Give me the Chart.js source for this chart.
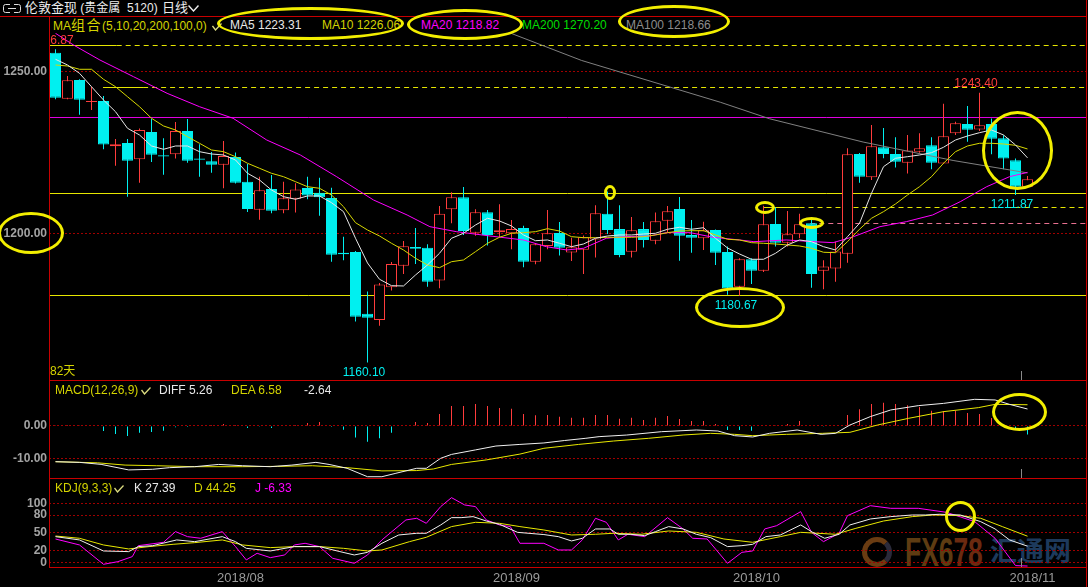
<!DOCTYPE html>
<html>
<head>
<meta charset="utf-8">
<title>伦敦金现 日线</title>
<script src="https://cdn.jsdelivr.net/npm/chart.js@4.4.1/dist/chart.umd.min.js"></script>
<style>
  html, body { margin: 0; padding: 0; background: #000; }
  body { position: relative; width: 1088px; height: 587px; overflow: hidden;
         font-family: "Liberation Sans", Arial, "Noto Sans CJK SC", sans-serif; }
  canvas { position: absolute; left: 0; }
  .t { position: absolute; font-size: 12px; line-height: 14px; white-space: nowrap; }
  .rl { position: absolute; background: #c80000; }
  .ring { position: absolute; box-sizing: border-box; border: 3px solid #f2ee00; border-radius: 50%; }
  .cur { position: absolute; width: 1px; height: 9px; background: #8a8a8a; }
</style>
</head>
<body>

<!-- watermark (under the charts) -->
<div style="position:absolute;left:862px;top:537px;width:30px;height:30px;box-sizing:border-box;border-radius:50%;border:5px solid #6a3c12;border-right-color:#2a2a3a;"></div>
<div class="t" style="left:905px;top:532px;font-size:40px;line-height:40px;font-weight:bold;color:#5e3c12;transform:scaleX(0.66);transform-origin:left top;">FX6<span style="color:#6b2a10">78</span></div>
<div class="t" style="left:990px;top:535px;font-size:27px;line-height:30px;font-weight:bold;color:#1d3a5c;font-family:'Noto Sans CJK SC',sans-serif;">汇通网</div>

<canvas id="kline" width="1088" height="363" style="top:17px"></canvas>
<canvas id="macd" width="1088" height="98" style="top:380px"></canvas>
<canvas id="kdj" width="1088" height="109" style="top:478px"></canvas>

<!-- frame -->
<div class="rl" style="left:0;top:16px;width:1087px;height:1px"></div>
<div class="rl" style="left:49px;top:380px;width:1038px;height:1px"></div>
<div class="rl" style="left:49px;top:478px;width:1038px;height:1px"></div>
<div class="rl" style="left:49px;top:567px;width:1038px;height:1px"></div>
<div class="rl" style="left:49px;top:16px;width:1px;height:552px"></div>
<div class="rl" style="left:1086px;top:0;width:1px;height:587px"></div>
<div class="rl" style="left:1077px;top:16px;width:9px;height:10px;clip-path:polygon(0 0,100% 0,100% 100%)"></div>
<div style="position:absolute;left:971px;top:17px;width:106px;height:1px;background:#e8e800"></div>
<div style="position:absolute;left:981px;top:20px;width:94px;height:0;border-top:1px dashed #5a5a00"></div>
<div class="cur" style="left:1021px;top:371px"></div>
<div class="cur" style="left:1021px;top:469px"></div>
<div class="cur" style="left:1021px;top:558px"></div>

<!-- top bar -->
<svg style="position:absolute;left:2px;top:3px" width="20" height="11">
  <path d="M8 1.5H3.5Q1.5 1.5 1.5 3.5V7.5Q1.5 9.5 3.5 9.5H8" fill="none" stroke="#ddd"/>
  <path d="M12 1.5H16.5Q18.5 1.5 18.5 3.5V7.5Q18.5 9.5 16.5 9.5H12" fill="none" stroke="#ddd"/>
  <path d="M6 5.5H14" stroke="#ddd"/>
</svg>
<div class="t" style="left:25px;top:1px;color:#ececec"><span style="font-size:13px">伦敦金现</span> (贵金属&nbsp; 5120)</div>
<div class="t" style="left:162px;top:1px;font-size:13px;color:#ececec">日线</div>
<svg style="position:absolute;left:188px;top:5px" width="11" height="7"><polyline points="0.5,0.5 5.5,6 10.5,0.5" fill="none" stroke="#ececec" stroke-width="1.4"/></svg>

<!-- MA legend row -->
<div style="position:absolute;left:50px;top:17px;width:1036px;height:16px;background:#000"></div>
<div class="t" style="left:53px;top:18px;color:#d4d400">MA<span style="font-size:14px;letter-spacing:1.5px">组合</span>(5,10,20,200,100,0)</div>
<svg style="position:absolute;left:212px;top:23px" width="10" height="8"><polyline points="0.5,3 3.5,7 9.5,0.5" fill="none" stroke="#dcdc80" stroke-width="1.3"/></svg>
<div class="t" style="left:230px;top:18px;color:#e8e8e8">MA5 1223.31</div>
<div class="t" style="left:322px;top:18px;color:#d4d400">MA10 1226.06</div>
<div class="t" style="left:421px;top:18px;color:#ff00ff">MA20 1218.82</div>
<div class="t" style="left:522px;top:18px;color:#00dd00">MA200 1270.20</div>
<div class="t" style="left:626px;top:18px;color:#8c8c8c">MA100 1218.66</div>
<div class="t" style="left:50px;top:364px;color:#d4d400">82天</div>

<!-- MACD legend -->
<div class="t" style="left:55px;top:383px;color:#d4d400">MACD(12,26,9)</div>
<svg style="position:absolute;left:141px;top:387px" width="10" height="8"><polyline points="0.5,3 3.5,7 9.5,0.5" fill="none" stroke="#dcdc80" stroke-width="1.3"/></svg>
<div class="t" style="left:159px;top:383px;color:#e8e8e8">DIFF 5.26</div>
<div class="t" style="left:231px;top:383px;color:#d4d400">DEA 6.58</div>
<div class="t" style="left:304px;top:383px;color:#e8e8e8">-2.64</div>

<!-- KDJ legend -->
<div class="t" style="left:55px;top:481px;color:#d4d400">KDJ(9,3,3)</div>
<svg style="position:absolute;left:114px;top:485px" width="10" height="8"><polyline points="0.5,3 3.5,7 9.5,0.5" fill="none" stroke="#dcdc80" stroke-width="1.3"/></svg>
<div class="t" style="left:134px;top:481px;color:#e8e8e8">K 27.39</div>
<div class="t" style="left:194px;top:481px;color:#d4d400">D 44.25</div>
<div class="t" style="left:255px;top:481px;color:#ff00ff">J -6.33</div>

<!-- hand drawn marks -->
<div class="ring" style="left:217px;top:7px;width:187px;height:33px"></div>
<div class="ring" style="left:407px;top:9px;width:116px;height:31px"></div>
<div class="ring" style="left:618px;top:5px;width:112px;height:33px"></div>
<div class="ring" style="left:-2px;top:212px;width:66px;height:42px"></div>
<div class="ring" style="left:604px;top:185px;width:12px;height:15px"></div>
<div class="ring" style="left:695px;top:287px;width:90px;height:41px"></div>
<div class="ring" style="left:755px;top:201px;width:20px;height:13px"></div>
<div class="ring" style="left:799px;top:217px;width:25px;height:12px"></div>
<div class="ring" style="left:982px;top:111px;width:71px;height:79px"></div>
<div class="ring" style="left:992px;top:393px;width:55px;height:38px"></div>
<div class="ring" style="left:945px;top:501px;width:31px;height:31px"></div>

<script>
// daily candles, index 0 = oldest
const openP = [1255.8,1241.6,1247.4,1240.6,1240.9,1226.9,1227.9,1222.9,1231.3,1224.1,
  1224.4,1231.6,1223.1,1222.3,1221.2,1223.6,1215.9,1207.3,1213.7,1207.1,
  1210.7,1214.0,1212.5,1210.9,1194.0,1194.2,1175.1,1173.2,1183.3,1190.0,
  1195.8,1195.5,1185.4,1207.4,1211.1,1200.2,1206.5,1200.3,1200.0,1201.6,
  1191.2,1196.1,1200.1,1194.1,1194.9,1198.1,1206.0,1201.3,1194.3,1201.3,
  1197.7,1203.9,1207.5,1199.5,1198.5,1201.0,1194.2,1183.5,1192.0,1188.4,
  1202.9,1197.1,1199.7,1203.1,1188.4,1189.1,1193.7,1224.5,1217.3,1226.6,
  1224.5,1221.8,1225.2,1227.2,1221.6,1230.9,1233.8,1232.1,1233.8,1229.4,
  1222.6,1214.4];
const highP = [1256.87,1248.6,1247.6,1245.3,1242.4,1229.1,1229.1,1232.4,1235.4,1229.4,
  1234.4,1235.3,1227.5,1225.1,1228.5,1225.0,1221.4,1217.5,1218.0,1215.9,
  1215.5,1217.5,1217.2,1214.1,1198.9,1194.5,1182.0,1184.6,1191.1,1197.6,
  1201.6,1196.6,1208.4,1212.7,1214.3,1207.4,1207.2,1209.0,1204.1,1202.3,
  1196.9,1207.2,1203.5,1198.6,1199.3,1208.7,1212.9,1208.7,1205.0,1203.5,
  1206.4,1208.4,1211.2,1204.1,1203.6,1201.2,1195.9,1192.3,1192.3,1208.5,
  1208.0,1206.9,1206.0,1204.1,1191.7,1197.4,1226.3,1224.8,1233.5,1232.5,
  1229.7,1230.4,1230.9,1229.7,1240.0,1234.5,1239.3,1243.4,1235.5,1230.3,
  1223.1,1217.7];
const lowP = [1241.4,1241.4,1236.6,1238.1,1226.0,1220.9,1211.3,1215.6,1222.0,1218.1,
  1223.1,1221.8,1217.5,1218.7,1213.9,1215.4,1206.6,1204.2,1206.2,1206.2,
  1206.4,1210.5,1205.4,1191.2,1191.7,1172.7,1160.1,1171.4,1182.3,1187.4,
  1190.5,1183.5,1183.0,1203.1,1199.5,1199.2,1196.2,1198.8,1195.1,1189.5,
  1190.4,1195.1,1193.1,1191.4,1187.4,1192.5,1199.8,1192.6,1192.5,1195.6,
  1196.6,1200.3,1191.5,1194.0,1194.8,1190.2,1181.0,1180.67,1184.3,1188.0,
  1195.9,1195.9,1198.5,1183.2,1182.7,1185.0,1190.9,1215.6,1216.5,1223.2,
  1220.3,1218.5,1224.9,1219.8,1221.4,1230.4,1228.3,1231.6,1224.4,1219.8,
  1211.87,1214.4];
const closeP = [1241.9,1247.3,1241.3,1240.9,1227.4,1227.5,1222.4,1231.9,1224.3,1223.7,
  1231.6,1222.4,1222.7,1221.2,1223.9,1215.6,1207.5,1213.3,1207.0,1210.8,
  1213.5,1211.7,1211.1,1193.4,1193.5,1174.2,1173.9,1184.2,1190.5,1196.0,
  1195.2,1185.0,1206.0,1211.1,1200.7,1206.5,1199.5,1200.9,1201.3,1191.2,
  1196.6,1200.0,1195.5,1195.7,1198.8,1206.2,1201.0,1193.3,1200.9,1197.9,
  1203.7,1206.8,1199.2,1198.6,1200.9,1194.0,1183.0,1192.0,1188.4,1202.8,
  1197.1,1199.7,1202.8,1187.4,1189.7,1194.4,1224.4,1217.5,1226.9,1224.5,
  1222.1,1225.6,1226.3,1221.8,1230.0,1234.0,1232.0,1233.4,1229.2,1223.1,
  1214.4,1216.7];

// moving averages
const ma5 = [1253.77,1252.01,1249.44,1245.30,1241.19,1237.58,1232.45,1230.38,1226.98,1225.96,
  1226.98,1226.98,1225.22,1224.51,1224.20,1222.65,1218.54,1216.47,1213.38,1211.31,
  1210.51,1211.53,1211.53,1209.46,1206.68,1198.46,1190.82,1185.79,1183.81,1183.72,
  1187.11,1190.21,1193.82,1198.46,1200.00,1202.57,1204.64,1203.80,1202.26,1199.48,
  1197.71,1197.93,1196.91,1195.86,1196.69,1198.46,1199.17,1199.48,1199.48,1199.78,
  1200.00,1201.24,1201.86,1201.24,1201.73,1198.46,1195.46,1193.60,1191.97,1191.97,
  1193.82,1196.39,1197.93,1197.41,1195.86,1194.84,1198.95,1203.09,1212.36,1220.58,
  1223.18,1223.67,1224.20,1224.91,1226.58,1228.83,1230.07,1231.09,1231.92,1230.38,
  1227.29,1223.31];
const ma10 = [1252.01,1251.70,1250.68,1250.68,1247.59,1245.30,1242.21,1239.12,1235.54,1233.16,
  1231.92,1229.85,1227.81,1225.74,1225.22,1223.67,1221.63,1220.09,1218.54,1217.49,
  1215.95,1214.40,1213.91,1211.84,1208.22,1203.28,1201.02,1199.17,1196.91,1194.84,
  1192.28,1190.21,1189.37,1191.22,1191.75,1194.32,1196.91,1198.77,1200.00,1200.19,
  1200.50,1201.42,1200.71,1198.95,1198.64,1198.64,1198.77,1198.77,1198.77,1198.95,
  1199.48,1200.19,1200.71,1200.80,1200.80,1199.48,1198.15,1197.93,1197.10,1196.91,
  1196.69,1196.39,1196.08,1195.37,1194.13,1194.01,1197.41,1201.24,1204.64,1206.68,
  1209.06,1211.84,1214.40,1217.49,1221.63,1225.22,1226.98,1227.81,1227.81,1227.60,
  1227.19,1226.06];
const ma20Idx = [0,1.5,3.7,6.5,9.3,12,14.8,17.6,20.4,23.4,26.5,29.3,31.2,33.4,36.2,39,40.9,42.6,
  44,45.9,47.3,49.5,50.9,52.9,54.8,57,58.2,60.9,63.2,64.8,66.5,68.7,70.9,73.1,75.4,77.6,79.5,81];
const ma20Val = [1261.80,1258.19,1253.55,1248.39,1243.26,1239.12,1235.54,1228.83,1224.20,1217.55,
  1210.29,1205.66,1202.04,1200.50,1199.17,1197.93,1195.86,1194.84,1195.37,1198.46,1198.95,
  1199.17,1200.19,1200.19,1198.77,1197.93,1197.41,1197.93,1197.41,1197.10,1198.95,1202.04,
  1203.59,1205.66,1209.77,1214.40,1217.49,1218.82];
const ma100Idx = [34,38.1,43.85,55.4,59.5,67.3,74.8,81];
const ma100Val = [1267.5,1261.6,1253.4,1240.5,1235.4,1228.2,1222.5,1218.66];

// MACD
const macdHist = [0.2,0.3,0.1,0,-1.55,-2.48,-3.1,-2.07,-1.86,-1.45,
  -0.4,-0.3,0,0.3,0.62,0.3,-0.6,-0.2,-0.6,0,
  0.3,0.93,1.24,-0.3,-1.14,-3.6,-4.86,-3.82,-2.07,0,
  1.24,0.93,3.72,6.2,6.2,6.8,6.2,5.58,5.37,3.72,
  3.3,3.41,2.9,2.58,2.58,3.41,3.41,2.27,2.58,1.86,
  2.58,3.1,2.17,1.55,1.55,0.62,-1.24,-1.24,-1.45,0,
  0.2,0.62,1.55,0,-0.2,0,3.41,5.17,6.82,7.23,
  6.82,6.4,5.89,4.75,4.65,4.75,4.03,3.72,2.48,0.2,
  -0.7,-2.64];
const diffIdx = [0,2,3.8,6.1,8.1,9.5,11.6,13.6,15.6,17.9,19.7,21.7,22.8,24.3,26,27.2,28.3,30.1,30.9,
  32.1,33,35,36.7,38.7,40.7,42.4,44.2,45.3,47.6,50.5,53.4,55.2,56.6,58.1,59.5,61.8,63.8,65,
  66.2,67.9,69.6,71.9,74,76.6,78.3,79.5,81];
const diffVal = [-11.05,-11.26,-11.88,-13.6,-13.4,-12.9,-12.6,-11.9,-12.3,-12.6,-12.1,-11.26,-11.9,
  -13.1,-15.7,-15.7,-14.7,-13.1,-13.1,-10.0,-8.8,-7.4,-6.2,-5.7,-5.25,-4.5,-3.8,-3.3,-2.8,-1.76,
  -1.24,-1.55,-3.0,-3.4,-2.27,-1.24,-2.58,-2.27,0.3,2.9,4.96,6.3,7.0,8.26,8.06,6.7,5.26];
const deaIdx = [0,3.5,5.8,8.4,11.6,15.6,18.5,21.4,24.3,27.2,30.1,31.5,33,35.9,38.7,40.7,43.6,46.5,
  49.4,52.3,54.6,56.6,58.1,60.9,63.9,66.2,68.5,71.1,74,76.9,78.3,81];
const deaVal = [-11.05,-11.4,-12.1,-12.3,-12.6,-12.6,-12.5,-12.3,-12.9,-13.9,-13.8,-13.3,-11.9,-10.5,
  -8.7,-6.9,-5.7,-4.65,-3.82,-2.79,-2.27,-2.58,-3.0,-2.58,-2.27,-1.96,0.3,2.38,4.44,5.68,6.7,6.58];

// KDJ
const kIdx = [0,2,4,6.1,6.9,8.1,10.1,11.6,13.9,15,15.9,17.9,19.9,22,23.7,24.9,26,27.2,28.6,30.1,
  30.9,32.1,33,33.8,34.8,35.9,37,38.5,40.7,41.9,43,43.9,45,46.2,46.9,47.9,49.1,50,51.1,52.3,
  53.4,54.6,56,57.2,58.1,59.2,60.4,62.1,63.1,64.1,65.3,66.2,67.9,69.6,71.4,72.5,73.7,75.4,
  77.1,78.3,79.5,81];
const kVal = [43.5,37.9,19.2,18.1,26.6,28.2,37.9,35,43.5,35,23.7,19.2,26.6,26.6,18.1,12.4,16.9,32.2,
  46.3,49.2,49.2,63.3,75.7,75.7,77.4,70,64.4,50.8,47,43.5,36.2,40.7,56.5,56.5,47.5,47.5,45.2,52,
  60.5,56.5,47.5,41.8,26.6,28.2,30.5,43.5,46.3,63.3,50.8,40.7,47.5,63.3,73.4,77.4,80.2,80.2,
  81.4,80.2,68.9,56.5,37.9,27.39];
const dIdx = [0,2,4,6.1,7.8,9.8,11.6,13.9,15.6,17.9,19.9,22,24,26,27.2,29.5,30.9,33,35,37,38.7,
  40.7,43,45,46.5,48.8,51.1,53.4,55.7,58.1,60.4,62.1,65,66.7,69,71.4,73.1,75.4,77.1,78.9,81];
const dVal = [44.6,40.7,29.4,22.6,26.6,30.5,33.3,37.9,29.4,24.9,26.6,26.6,23.7,19.2,20.9,35,42.4,
  60.5,67.8,66.1,60.5,54.8,46.3,47.5,49.2,47.5,53.1,50.8,39.5,33.9,43.5,50.8,47.5,57.6,70,77.4,
  80.2,79.1,74.6,60.5,44.25];
const jIdx = [0,2,4,5.2,6.4,6.9,9,10,11,12.1,13.9,15,15.9,16.8,17.9,19.1,19.9,20.8,22,23.1,24.9,
  26,27.2,29.2,30.1,30.9,32.1,33,34.1,35,35.9,37,37.9,38.7,40.7,41.9,43,43.9,45,45.9,46.9,47.7,
  49.1,51,52.3,53.1,54.3,56,57.2,58.1,59.1,60.1,62.1,63,64,65.3,66,67.9,69.6,71.9,74.25,76.6,
  78.3,80,81];
const jVal = [39.5,29.4,-3.4,1.1,9.6,28.2,33.9,52,43.5,40.7,52,26.6,4,15.3,7.9,12.4,29.4,32.2,26.6,
  6.8,-1.7,12.4,37.9,71.8,74.6,66.1,94.4,109.6,97.2,94.4,71.8,63.3,60.5,32.2,32.2,20.9,20.9,37.9,
  74.6,67.8,37.9,47.5,43.5,75.7,56.5,40.7,39.5,-1.7,16.9,19.2,56.5,62.1,85.9,50.8,35,49.2,79.1,
  96,91.5,91.5,84.7,68.9,40.7,-5.6,-6.33];

// dates on the bottom axis (first candle of each month)
const monthStartIdx = [15, 38, 58, 81];
const monthLabels = ['2018/08', '2018/09', '2018/10', '2018/11'];

// drawn support / resistance lines and marked extremes
const levelPrices = [1258.19, 1245.21, 1235.85, 1212.36, 1180.87, 1208.22, 1203.09];
const levelStyle = [
  { from: null, solidTo: 5.1, color: '#e6e600' },
  { from: 3.96, solidTo: 7.3, color: '#e6e600' },
  { from: null, solidTo: null, color: '#e000e0' },
  { from: null, solidTo: null, color: '#e6e600' },
  { from: null, solidTo: null, color: '#e6e600' },
  { from: 59, solidTo: 62, color: '#e6e600' },
  { from: 62.9, solidTo: 62.9, color: '#e87090' }
];
const highMarks = [0, 77];
const lowMarks = [26, 57, 80];

const RED = '#ff3c3c';
const CYAN = '#00f0f0';
const X_MIN = -0.5417, X_MAX = 85.875;

Chart.defaults.font.family = '"Liberation Sans", Arial, sans-serif';
Chart.defaults.font.size = 12;
Chart.defaults.animation = false;
Chart.defaults.plugins.legend.display = false;
Chart.defaults.plugins.tooltip.enabled = false;

function pts(xs, ys) {
  return xs.map((x, i) => ({ x: x, y: ys[i] }));
}

function xAxis(show) {
  const a = {
    type: 'linear', min: X_MIN, max: X_MAX, offset: false, bounds: 'data',
    display: show, grid: { display: false, drawTicks: false }, border: { display: false }
  };
  if (show) {
    a.afterBuildTicks = s => { s.ticks = monthStartIdx.map(v => ({ value: v })); };
    a.afterFit = s => { s.height = 20; s.paddingLeft = 0; s.paddingRight = 0; };
    a.ticks = {
      callback: (v, i) => monthLabels[i], color: '#9a9a9a', font: { size: 13 },
      padding: 4, labelOffset: 5, autoSkip: false, maxRotation: 0
    };
  }
  return a;
}

function yAxis(min, max, tickVals, fmt) {
  return {
    type: 'linear', position: 'left', min: min, max: max, bounds: 'data',
    afterBuildTicks: s => { s.ticks = tickVals.map(v => ({ value: v })); },
    afterFit: s => { s.width = 49; s.paddingTop = 0; s.paddingBottom = 0; },
    ticks: { callback: fmt, color: '#a3a3a3', font: { size: 12, weight: 'bold' }, padding: 2 },
    grid: { color: '#a00000', lineWidth: 1, drawTicks: false },
    border: { display: false, dash: [2, 2] }
  };
}

function lineSet(data, color) {
  return { type: 'line', data: data, borderColor: color, borderWidth: 1,
           pointRadius: 0, tension: 0, fill: false, order: 0 };
}

// LEVELS + EXTREME LABELS
const overlayPlugin = {
  id: 'overlay',
  beforeDatasetsDraw(chart) {
    const { ctx, chartArea: a, scales: { x, y } } = chart;
    ctx.save();
    ctx.beginPath();
    ctx.rect(a.left, a.top, a.right - a.left, a.bottom - a.top);
    ctx.clip();
    ctx.lineWidth = 1;
    levelPrices.forEach((p, k) => {
      const st = levelStyle[k];
      const py = Math.round(y.getPixelForValue(p)) + 0.5;
      const x0 = st.from == null ? a.left : x.getPixelForValue(st.from);
      const x1 = st.solidTo == null ? a.right : x.getPixelForValue(st.solidTo);
      ctx.strokeStyle = st.color;
      if (x1 > x0) {
        ctx.setLineDash([]);
        ctx.beginPath(); ctx.moveTo(x0, py); ctx.lineTo(x1, py); ctx.stroke();
      }
      if (x1 < a.right) {
        ctx.setLineDash([5, 4]);
        ctx.beginPath(); ctx.moveTo(x1, py); ctx.lineTo(a.right, py); ctx.stroke();
      }
    });
    ctx.restore();
  },
  afterDatasetsDraw(chart) {
    const { ctx, chartArea: a, scales: { x, y } } = chart;
    ctx.save();
    ctx.beginPath();
    ctx.rect(a.left, a.top, a.right - a.left, a.bottom - a.top);
    ctx.clip();
    ctx.font = '12px "Liberation Sans", Arial, sans-serif';
    ctx.textAlign = 'center';
    ctx.textBaseline = 'middle';
    ctx.fillStyle = RED;
    highMarks.forEach(i => {
      ctx.fillText(highP[i].toFixed(2), x.getPixelForValue(i) - 3.5, y.getPixelForValue(highP[i]) - 9);
    });
    ctx.fillStyle = CYAN;
    lowMarks.forEach(i => {
      ctx.fillText(lowP[i].toFixed(2), x.getPixelForValue(i) - 3.5, y.getPixelForValue(lowP[i]) + 10);
    });
    ctx.restore();
  }
};

// MAIN CHART
const isUp = closeP.map((c, i) => c >= openP[i]);
new Chart(document.getElementById('kline'), {
  type: 'bar',
  data: {
    datasets: [
      lineSet(ma5.map((v, i) => ({ x: i, y: v })), '#e6e6e6'),
      lineSet(ma10.map((v, i) => ({ x: i, y: v })), '#d8d800'),
      lineSet(pts(ma20Idx, ma20Val), '#ff00ff'),
      lineSet(pts(ma100Idx, ma100Val), '#808080'),
      {
        data: openP.map((o, i) => ({ x: i, y: [o, closeP[i]] })),
        backgroundColor: isUp.map(u => u ? '#000' : CYAN),
        borderColor: isUp.map(u => u ? RED : CYAN),
        borderWidth: 1, borderSkipped: false, barThickness: 11, minBarLength: 1,
        grouped: false, inflateAmount: 0, order: 1
      },
      {
        data: highP.map((h, i) => ({ x: i, y: [lowP[i], h] })),
        backgroundColor: isUp.map(u => u ? RED : CYAN),
        borderWidth: 0, barThickness: 1, grouped: false, inflateAmount: 0, order: 2
      }
    ]
  },
  options: {
    responsive: false,
    layout: { padding: { left: 0, right: 2, top: 0, bottom: 0 } },
    scales: {
      x: xAxis(false),
      y: yAxis(1154.66, 1266.84, [1200, 1250], v => v.toFixed(2))
    }
  },
  plugins: [overlayPlugin]
});

// MACD
new Chart(document.getElementById('macd'), {
  type: 'bar',
  data: {
    datasets: [
      lineSet(pts(diffIdx, diffVal), '#f0f0f0'),
      lineSet(pts(deaIdx, deaVal), '#e8e800'),
      {
        data: macdHist.map((v, i) => ({ x: i, y: v })),
        backgroundColor: macdHist.map(v => v >= 0 ? RED : CYAN),
        borderWidth: 0, barThickness: 1, grouped: false, inflateAmount: 0, order: 1
      }
    ]
  },
  options: {
    responsive: false,
    layout: { padding: { left: 0, right: 2, top: 0, bottom: 0 } },
    scales: {
      x: xAxis(false),
      y: yAxis(-16.10, 14.24, [-10, 0], v => v.toFixed(2))
    }
  }
});

// KDJ
new Chart(document.getElementById('kdj'), {
  type: 'line',
  data: {
    datasets: [
      lineSet(pts(kIdx, kVal), '#f0f0f0'),
      lineSet(pts(dIdx, dVal), '#e8e800'),
      lineSet(pts(jIdx, jVal), '#ff00ff')
    ]
  },
  options: {
    responsive: false,
    layout: { padding: { left: 0, right: 2, top: 0, bottom: 0 } },
    scales: {
      x: xAxis(true),
      y: yAxis(-7.97, 142.9, [0, 20, 50, 80, 100], v => String(v))
    }
  }
});
</script>
</body>
</html>
